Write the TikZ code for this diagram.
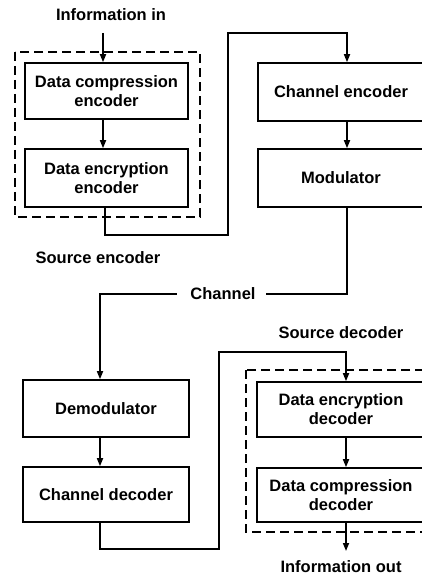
\documentclass[tikz,border=0pt]{standalone}
\usepackage{fontspec}
\setmainfont{Liberation Sans}
\usetikzlibrary{arrows.meta}
\begin{document}
\begin{tikzpicture}[x=1pt,y=-1pt,
  font=\bfseries\fontsize{16.5}{19}\selectfont,
  line width=1.6pt,
  blk/.style={draw, rectangle, align=center, inner sep=0pt, line width=1.6pt},
  grp/.style={draw, dashed, dash pattern=on 9pt off 5pt, line width=1.6pt},
  arr/.style={-{Triangle[length=8pt,width=6pt]}},
  lbl/.style={inner sep=0pt}]
\useasboundingbox (0,0) rectangle (422,577);
\clip (0,0) rectangle (422,577);

% transmitter side
\node[blk, minimum width=163pt, minimum height=56pt] (dce) at (106.5,91) {Data compression\\encoder};
\node[blk, minimum width=163pt, minimum height=58pt] (dee) at (106.5,178) {Data encryption\\encoder};
\node[blk, minimum width=166pt, minimum height=58pt] (che) at (341,92) {Channel encoder};
\node[blk, minimum width=166pt, minimum height=58pt] (mod) at (341,178) {Modulator};
\draw[grp] (15,52) rectangle (200,217);

% receiver side
\node[blk, minimum width=166pt, minimum height=57pt] (dem) at (106,408.5) {Demodulator};
\node[blk, minimum width=166pt, minimum height=55pt] (chd) at (106,494.5) {Channel decoder};
\node[blk, minimum width=168pt, minimum height=55pt] (ded) at (341,409.5) {Data encryption\\decoder};
\node[blk, minimum width=168pt, minimum height=54pt] (dcd) at (341,495) {Data compression\\decoder};
\draw[grp] (246,370) rectangle (432,532);

% labels
\node[lbl] (inf) at (111,15) {Information in};
\node[lbl] (senc) at (98,258) {Source encoder};
\node[lbl] (chan) at (223,294) {Channel};
\node[lbl] (sdec) at (341,333) {Source decoder};
\node[lbl] (outl) at (341,567) {Information out};

% connector waypoints
\coordinate (inTop) at (103,33);
\coordinate (encOut) at (105,235);
\coordinate (encRise) at (228,33);
\coordinate (encX) at (347,33);
\coordinate (modX) at (347,294);
\coordinate (demX) at (100,294);
\coordinate (decOut) at (100,549);
\coordinate (decRise) at (219,352);
\coordinate (decX) at (346,352);
\coordinate (outEnd) at (346,551);

% signal flow
\draw[arr] (inTop) -- (inTop |- dce.north);
\draw[arr] (inTop |- dce.south) -- (inTop |- dee.north);
\draw[arr] (encOut |- dee.south) -- (encOut) -- (encOut -| encRise) -- (encRise) -- (encX) -- (encX |- che.north);
\draw[arr] (encX |- che.south) -- (encX |- mod.north);
\draw (modX |- mod.south) -- (modX) -- ([xshift=10pt]chan.east |- modX);
\draw[arr] ([xshift=-13pt]chan.west |- demX) -- (demX) -- (demX |- dem.north);
\draw[arr] (demX |- dem.south) -- (demX |- chd.north);
\draw[arr] (decOut |- chd.south) -- (decOut) -- (decOut -| decRise) -- (decRise) -- (decX) -- (decX |- ded.north);
\draw[arr] (decX |- ded.south) -- (decX |- dcd.north);
\draw[arr] (decX |- dcd.south) -- (outEnd);
\end{tikzpicture}
\end{document}
